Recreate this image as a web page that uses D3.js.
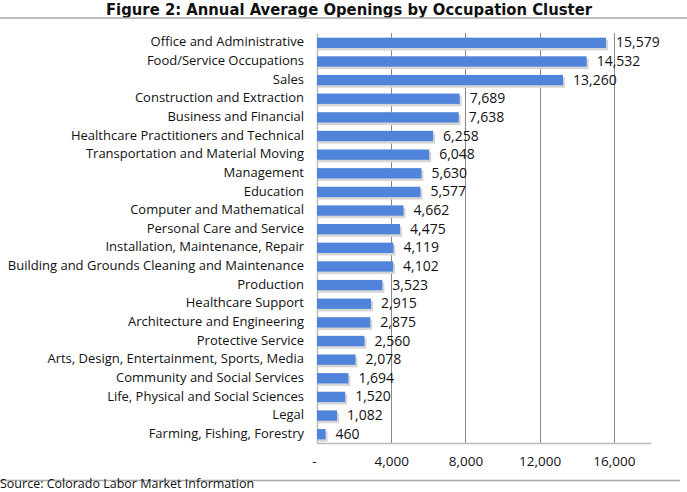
<!DOCTYPE html>
<html><head><meta charset="utf-8">
<script src="https://cdn.jsdelivr.net/npm/d3@7"></script>
<style>body{margin:0;background:#fff}svg{display:block}</style>
</head><body><svg id="c" width="687" height="492"></svg>
<script>
const categories = ["Office and Administrative","Food/Service Occupations","Sales","Construction and Extraction","Business and Financial","Healthcare Practitioners and Technical","Transportation and Material Moving","Management","Education","Computer and Mathematical","Personal Care and Service","Installation, Maintenance, Repair","Building and Grounds Cleaning and Maintenance","Production","Healthcare Support","Architecture and Engineering","Protective Service","Arts, Design, Entertainment, Sports, Media","Community and Social Services","Life, Physical and Social Sciences","Legal","Farming, Fishing, Forestry"];
const openings = [15579,14532,13260,7689,7638,6258,6048,5630,5577,4662,4475,4119,4102,3523,2915,2875,2560,2078,1694,1520,1082,460];
const tickValues = [0,4000,8000,12000,16000];
const titleText = "Figure 2: Annual Average Openings by Occupation Cluster";
const sourceText = "Source: Colorado Labor Market Information";

const svg = d3.select("#c");
const labelFont = "Open Sans, Noto Sans, sans-serif";
const x = d3.scaleLinear().domain([0,18000]).range([317,651]);
const y = d3.scaleBand().domain(categories).range([33,443]).paddingInner(0.5).paddingOuter(0.25);

// title and rules
svg.append("text").attr("x",349).attr("y",14.5).attr("text-anchor","middle")
  .attr("font-family","DejaVu Sans, Verdana, sans-serif").attr("font-weight","bold").attr("font-size",15.5)
  .attr("textLength",486).attr("lengthAdjust","spacingAndGlyphs").attr("fill","#111").text(titleText);
svg.append("line").attr("x1",0).attr("x2",687).attr("y1",18).attr("y2",18).attr("stroke","#aaa").attr("stroke-width",1.5);
svg.append("line").attr("x1",0).attr("x2",680).attr("y1",480.5).attr("y2",480.5).attr("stroke","#aaa").attr("stroke-width",1.5);
svg.append("text").attr("x",0).attr("y",488).attr("font-family",labelFont).attr("font-size",12.5).attr("fill","#111").text(sourceText);

// gridlines
svg.append("g").selectAll("line").data(tickValues.slice(1)).join("line")
  .attr("x1",d=>Math.round(x(d))+0.5).attr("x2",d=>Math.round(x(d))+0.5)
  .attr("y1",33).attr("y2",443).attr("stroke","#888").attr("stroke-width",1);

// axes
const xAxis = d3.axisBottom(x).tickValues(tickValues).tickSize(0).tickPadding(13)
  .tickFormat(d=> d===0 ? "-" : d3.format(",")(d));
const gx = svg.append("g").attr("transform","translate(0,443)").call(xAxis);
gx.select(".domain").attr("stroke","#bbb").attr("stroke-width",1.5);
gx.selectAll("text").attr("font-family",labelFont).attr("font-size",13.5).attr("fill","#111");
gx.selectAll(".tick").filter(d=>d===0).select("text").attr("dx",-3);

const yAxis = d3.axisLeft(y).tickSize(0).tickPadding(13);
const gy = svg.append("g").attr("transform","translate(317,0)").call(yAxis);
gy.select(".domain").attr("stroke","#bbb").attr("stroke-width",1.5);
gy.selectAll("text").attr("font-family",labelFont).attr("font-size",13).attr("fill","#111");

// bars with shadow
svg.append("g").selectAll("rect").data(openings).join("rect")
  .attr("x",x(0)+1).attr("y",(d,i)=>y(categories[i])+2.5).attr("width",d=>x(d)-x(0)+1).attr("height",y.bandwidth()+1)
  .attr("fill","#d6d6d6");
svg.append("g").selectAll("rect").data(openings).join("rect")
  .attr("x",x(0)).attr("y",(d,i)=>y(categories[i])).attr("width",d=>x(d)-x(0)).attr("height",y.bandwidth()+1)
  .attr("fill","#4f84da");

// value labels
svg.append("g").selectAll("text").data(openings).join("text")
  .attr("x",d=>x(d)+10).attr("y",(d,i)=>y(categories[i])+y.bandwidth()/2+5)
  .attr("font-family",labelFont).attr("font-size",14).attr("fill","#111")
  .text(d=>d3.format(",")(d));
</script></body></html>
